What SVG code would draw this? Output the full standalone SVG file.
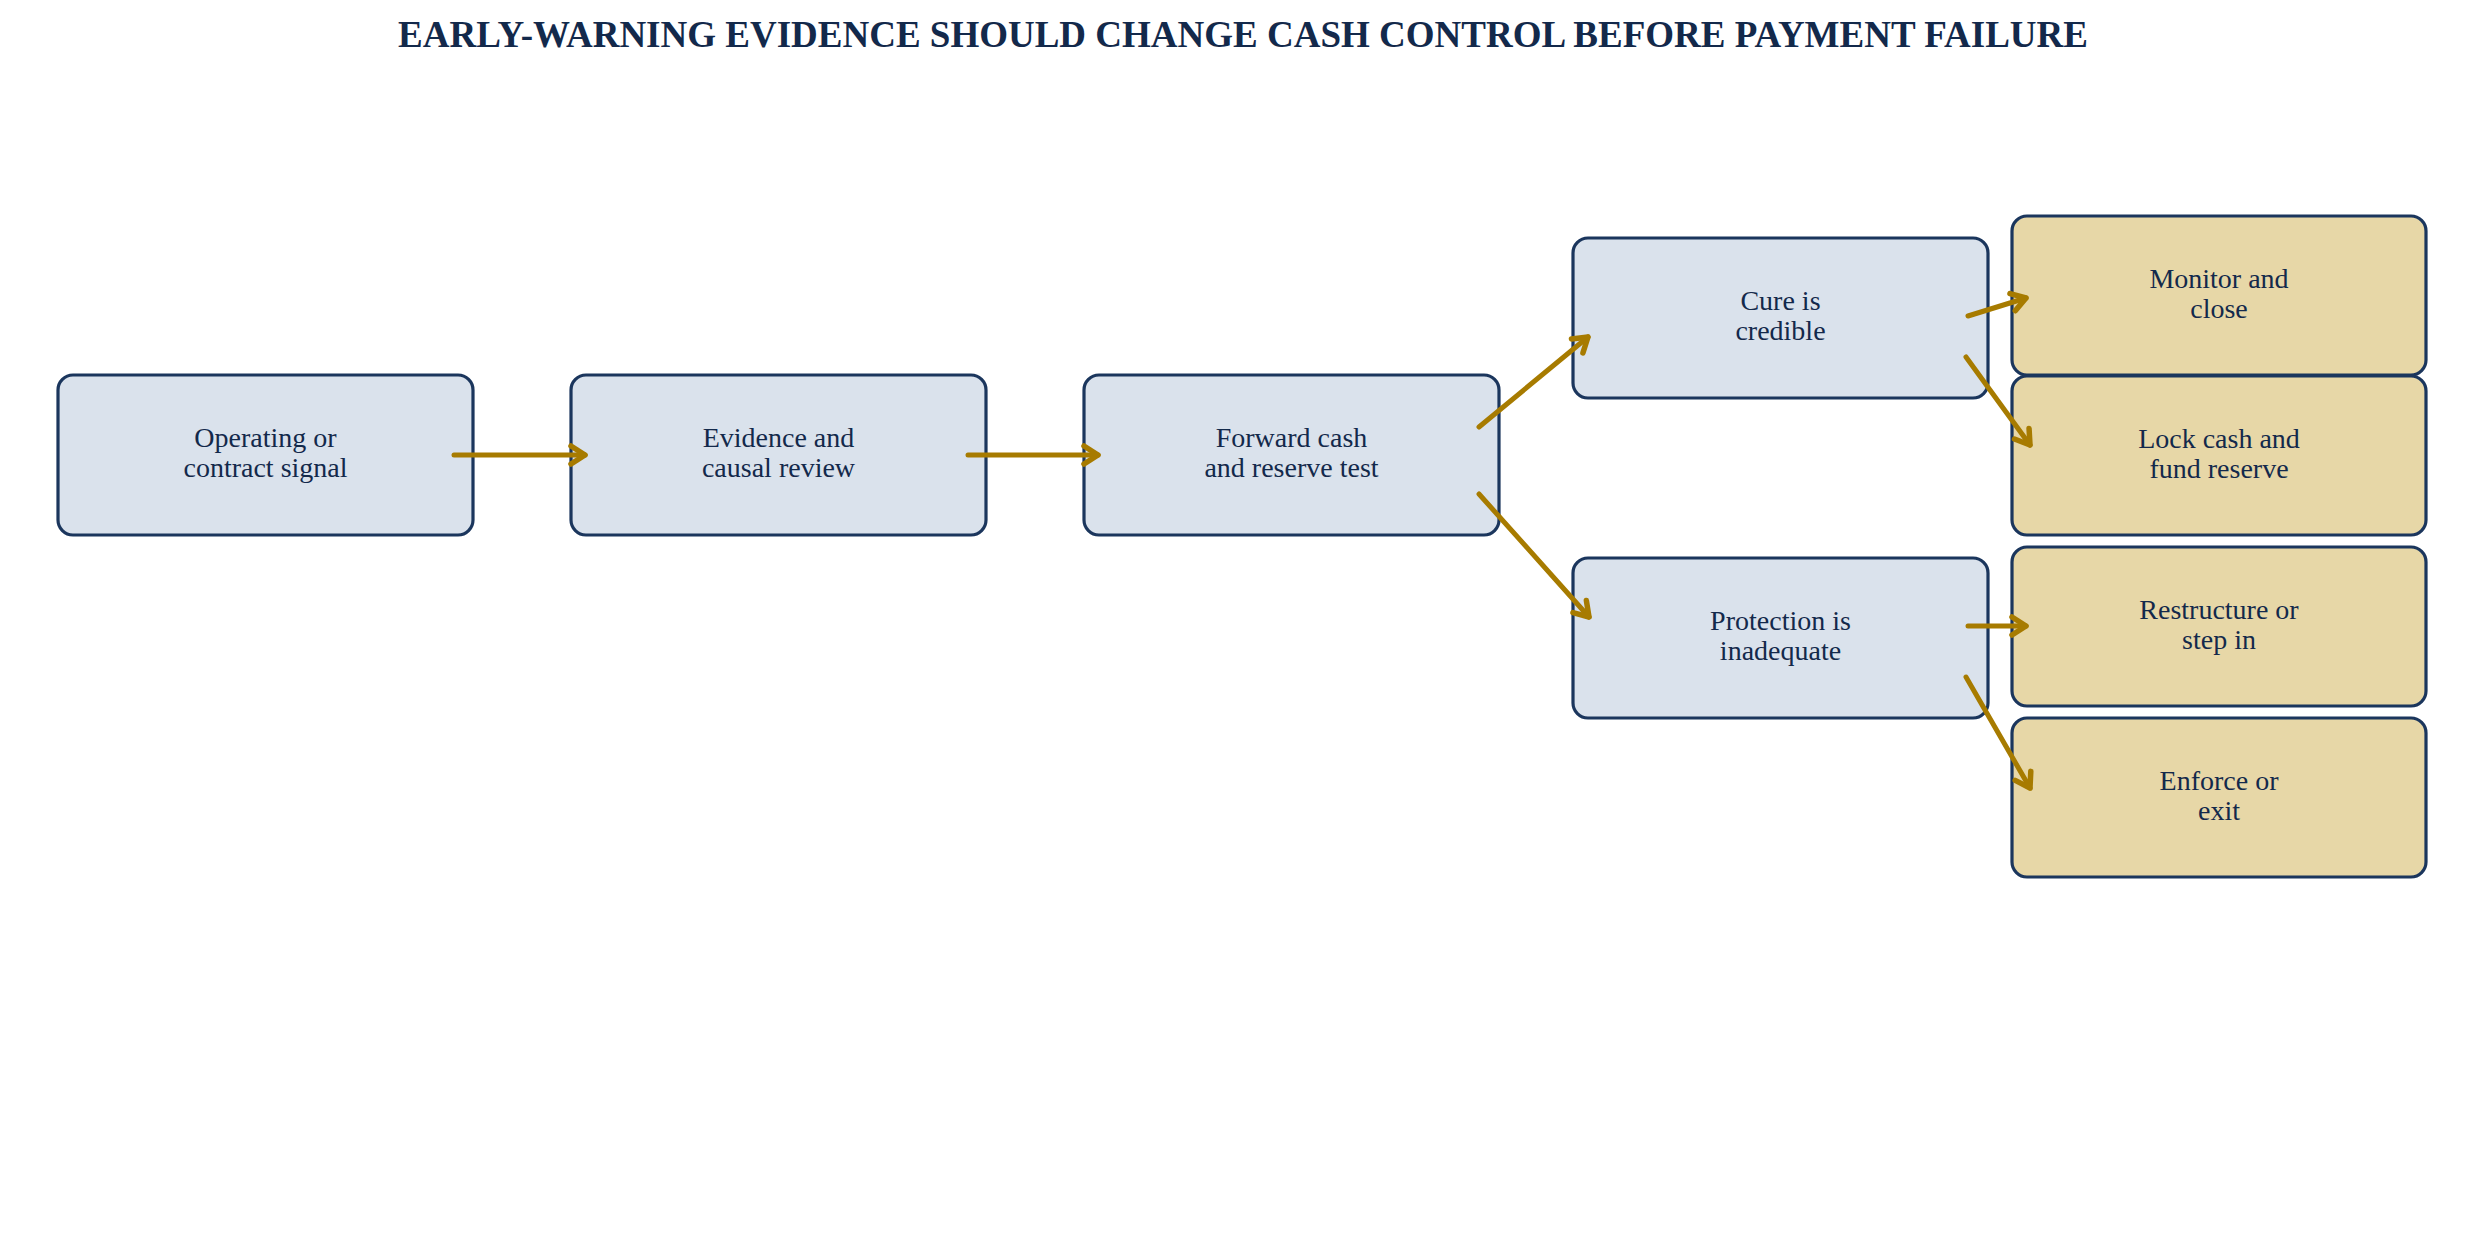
<svg xmlns="http://www.w3.org/2000/svg" width="2486" height="1254" viewBox="0 0 2486 1254">
<style>
.title{font-family:"Liberation Serif","Times New Roman",serif;font-weight:bold;font-size:37px;fill:#13294b;text-anchor:middle}
.box rect{stroke:#1b365d;stroke-width:3.2}
.blue rect{fill:#dae2ec}
.gold rect{fill:#e7d7a7}
.box text{font-family:"Liberation Serif","Times New Roman",serif;font-size:28px;fill:#13294b;text-anchor:middle}
.conn line{stroke:#a77b00;stroke-width:5;stroke-linecap:round;fill:none}
</style>
<defs>
<marker id="ah" viewBox="-20 -14 26 28" refX="0" refY="0" markerWidth="26" markerHeight="28" markerUnits="userSpaceOnUse" orient="auto">
<path d="M-14,-9 L0,0 L-14,9" fill="none" stroke="#a77b00" stroke-width="5.5" stroke-linecap="round" stroke-linejoin="round"/>
</marker>
</defs>
<rect width="2486" height="1254" fill="#ffffff"/>
<text class="title" x="1243" y="47">EARLY-WARNING EVIDENCE SHOULD CHANGE CASH CONTROL BEFORE PAYMENT FAILURE</text>

<g id="n1" class="box blue"><rect x="58" y="375" width="415" height="160" rx="15"/><text x="265.5" y="447">Operating or</text><text x="265.5" y="477">contract signal</text></g>
<g id="n2" class="box blue"><rect x="571" y="375" width="415" height="160" rx="15"/><text x="778.5" y="447">Evidence and</text><text x="778.5" y="477">causal review</text></g>
<g id="n3" class="box blue"><rect x="1084" y="375" width="415" height="160" rx="15"/><text x="1291.5" y="447">Forward cash</text><text x="1291.5" y="477">and reserve test</text></g>
<g id="n4" class="box blue"><rect x="1573" y="238" width="415" height="160" rx="15"/><text x="1780.5" y="310">Cure is</text><text x="1780.5" y="340">credible</text></g>
<g id="n5" class="box blue"><rect x="1573" y="558" width="415" height="160" rx="15"/><text x="1780.5" y="630">Protection is</text><text x="1780.5" y="660">inadequate</text></g>
<g id="n6" class="box gold"><rect x="2012" y="216" width="414" height="159" rx="15"/><text x="2219" y="288">Monitor and</text><text x="2219" y="318">close</text></g>
<g id="n7" class="box gold"><rect x="2012" y="376" width="414" height="159" rx="15"/><text x="2219" y="448">Lock cash and</text><text x="2219" y="478">fund reserve</text></g>
<g id="n8" class="box gold"><rect x="2012" y="547" width="414" height="159" rx="15"/><text x="2219" y="619">Restructure or</text><text x="2219" y="649">step in</text></g>
<g id="n9" class="box gold"><rect x="2012" y="718" width="414" height="159" rx="15"/><text x="2219" y="790">Enforce or</text><text x="2219" y="820">exit</text></g>

<g id="connectors" class="conn">
<line x1="454" y1="455" x2="585" y2="455" marker-end="url(#ah)"/>
<line x1="968" y1="455" x2="1098" y2="455" marker-end="url(#ah)"/>
<line x1="1479" y1="427" x2="1588" y2="337" marker-end="url(#ah)"/>
<line x1="1479" y1="494" x2="1589" y2="617" marker-end="url(#ah)"/>
<line x1="1968" y1="316" x2="2026" y2="298" marker-end="url(#ah)"/>
<line x1="1966" y1="357" x2="2030" y2="445" marker-end="url(#ah)"/>
<line x1="1968" y1="626" x2="2026" y2="626" marker-end="url(#ah)"/>
<line x1="1966" y1="677" x2="2030" y2="788" marker-end="url(#ah)"/>
</g>
</svg>
